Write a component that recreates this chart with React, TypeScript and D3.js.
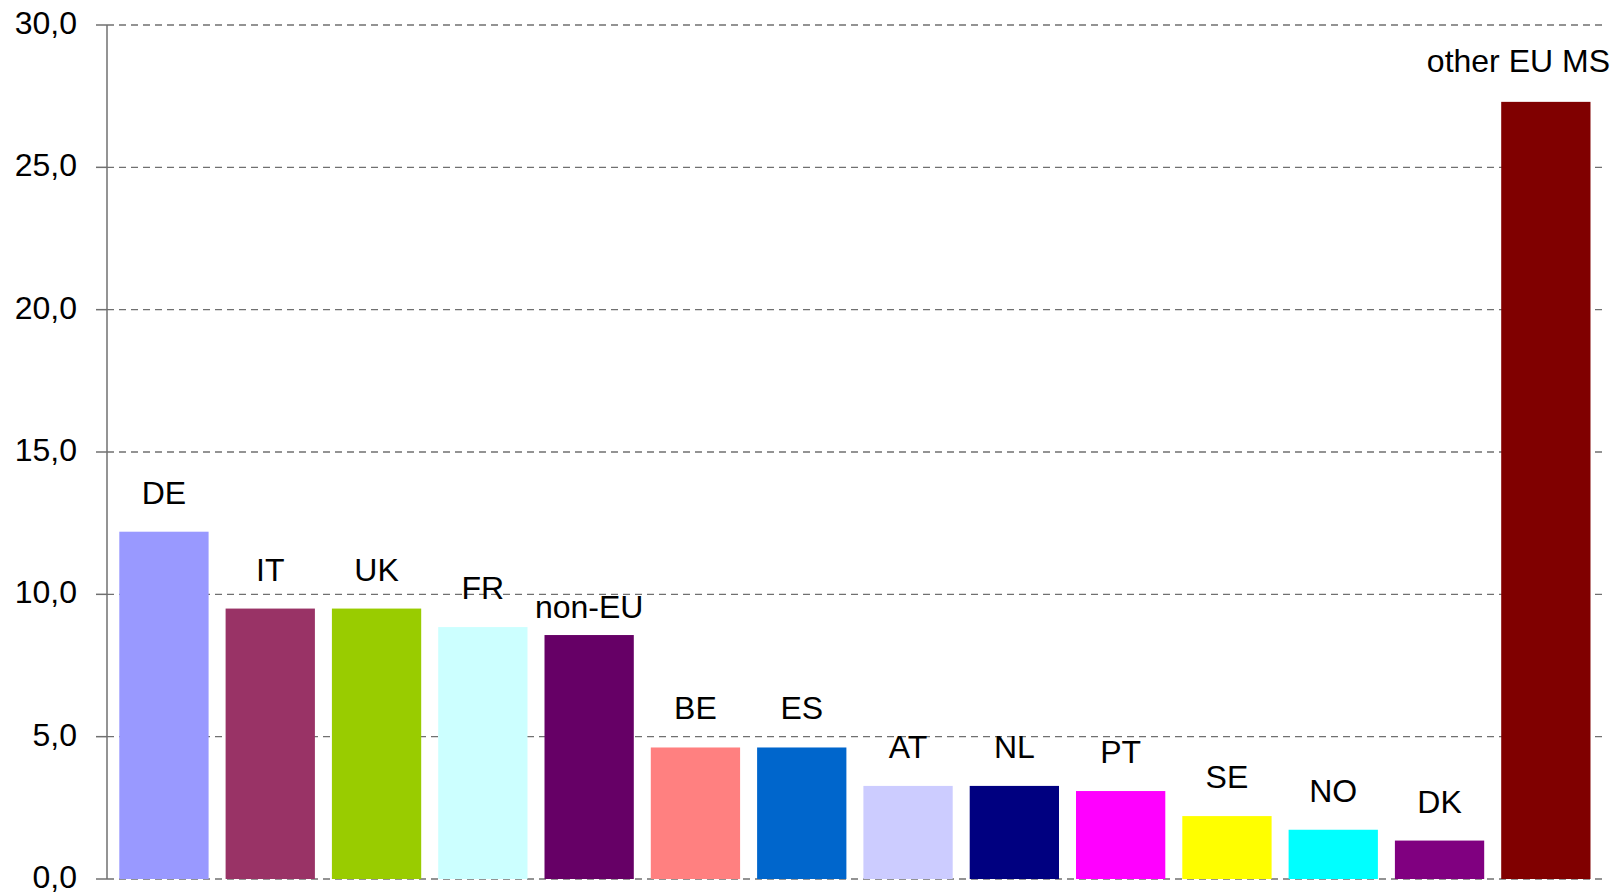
import { useEffect, useRef } from 'react';
import * as d3 from 'd3';

// categories and values (share, %)
const categories = ['DE', 'IT', 'UK', 'FR', 'non-EU', 'BE', 'ES', 'AT', 'NL', 'PT', 'SE', 'NO', 'DK', 'other EU MS'];
const values = [12.2, 9.5, 9.5, 8.85, 8.57, 4.62, 4.62, 3.27, 3.27, 3.09, 2.21, 1.73, 1.35, 27.3];
const barColors = ['#9999FF', '#993366', '#99CC00', '#CCFFFF', '#660066', '#FF8080', '#0066CC', '#CCCCFF', '#000080', '#FF00FF', '#FFFF00', '#00FFFF', '#800080', '#800000'];
const yTicks = [0, 5, 10, 15, 20, 25, 30];

const W = 1621;
const H = 895;
const FONT = "'Liberation Sans', Arial, sans-serif";

// label nudges (px) where Excel moved a data label
const labelNudge: Record<string, number> = { 'non-EU': 11, 'other EU MS': -2 };

const App = () => {
    const svgRef = useRef<SVGSVGElement | null>(null);

    useEffect(() => {
        document.body.style.margin = '0';
        const svg = d3.select(svgRef.current);
        svg.selectAll('*').remove();

        const axisX = 107;
        const gridRight = 1606;
        const labelRight = 1610;

        const x = d3.scaleBand<string>()
            .domain(categories)
            .range([110.8, 1599])
            .paddingInner(0.16)
            .paddingOuter(0.08);

        const y = d3.scaleLinear().domain([0, 30]).range([879, 25]);

        // gridlines (dashed, including zero line)
        svg.append('g')
            .selectAll('line')
            .data(yTicks)
            .join('line')
            .attr('x1', axisX)
            .attr('x2', gridRight)
            .attr('y1', d => y(d))
            .attr('y2', d => y(d))
            .attr('stroke', '#707070')
            .attr('stroke-width', 1.3)
            .attr('stroke-dasharray', '7,5');

        // bars
        svg.append('g')
            .selectAll('rect')
            .data(categories)
            .join('rect')
            .attr('x', d => x(d)!)
            .attr('width', x.bandwidth())
            .attr('y', (d, i) => y(values[i]))
            .attr('height', (d, i) => y(0) - y(values[i]))
            .attr('fill', (d, i) => barColors[i]);

        // y axis line + ticks
        svg.append('line')
            .attr('x1', axisX).attr('x2', axisX)
            .attr('y1', y(30)).attr('y2', y(0))
            .attr('stroke', '#707070')
            .attr('stroke-width', 1.5);

        svg.append('g')
            .selectAll('line')
            .data(yTicks)
            .join('line')
            .attr('x1', 96)
            .attr('x2', axisX)
            .attr('y1', d => y(d))
            .attr('y2', d => y(d))
            .attr('stroke', '#707070')
            .attr('stroke-width', 1.5);

        svg.append('g')
            .selectAll('text')
            .data(yTicks)
            .join('text')
            .attr('x', 77)
            .attr('y', d => y(d) + 9)
            .attr('text-anchor', 'end')
            .style('font-family', FONT)
            .style('font-size', '32px')
            .attr('fill', '#000')
            .text(d => d3.format('.1f')(d).replace('.', ','));

        // category labels above bars
        const labels = svg.append('g')
            .selectAll('text')
            .data(categories)
            .join('text')
            .attr('x', d => x(d)! + x.bandwidth() / 2)
            .attr('y', (d, i) => y(values[i]) - 28 + (labelNudge[d] || 0))
            .attr('text-anchor', 'middle')
            .style('font-family', FONT)
            .style('font-size', '32px')
            .attr('fill', '#000')
            .text(d => d);

        // keep labels inside the chart area
        labels.each(function (d) {
            const el = this as SVGTextElement;
            const w = el.getComputedTextLength();
            const cx = x(d)! + x.bandwidth() / 2;
            if (cx + w / 2 > labelRight) {
                d3.select(el).attr('text-anchor', 'end').attr('x', labelRight);
            }
        });
    }, []);

    return (
        <svg ref={svgRef} width={W} height={H} style={{ display: 'block', background: '#fff' }} />
    );
};

export default App;
